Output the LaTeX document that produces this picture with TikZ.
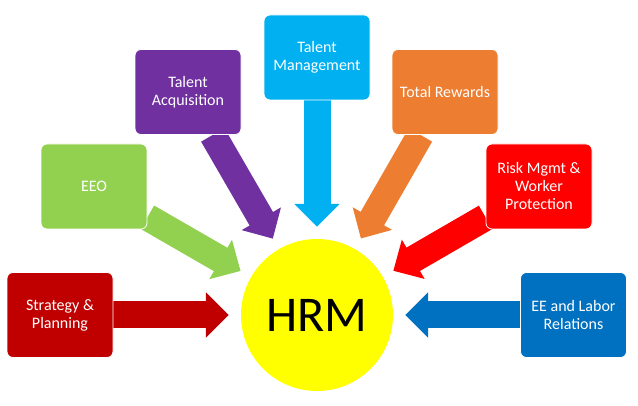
\documentclass[tikz,border=0pt]{standalone}
\usepackage{fontspec}
\setmainfont{Carlito}
\usetikzlibrary{arrows.meta,backgrounds}
\definecolor{stratred}{HTML}{C00000}
\definecolor{eeogreen}{HTML}{92D050}
\definecolor{acqpurple}{HTML}{7030A0}
\definecolor{mgmtblue}{HTML}{00B0F0}
\definecolor{rewardorange}{HTML}{ED7D31}
\definecolor{riskred}{HTML}{FF0000}
\definecolor{laborblue}{HTML}{0070C0}
\definecolor{hrmyellow}{HTML}{FFFF00}

\begin{document}
\begin{tikzpicture}[x=1pt,y=-1pt,
  area/.style={draw=white,line width=0.8pt,rounded corners=6pt,align=center,
               text=white,font=\fontsize{16}{18}\selectfont,
               minimum width=106pt,minimum height=85pt,inner sep=2pt},
  feed/.style={line width=27pt,-{Triangle[width=44pt,length=23pt]},shorten >=12pt}]
\useasboundingbox (0,0) rectangle (638,406);

\node (hrm)  [circle,fill=hrmyellow,minimum size=152pt,inner sep=0pt,
              font=\fontsize{50}{50}\selectfont] at (317,315) {HRM};

\node (strat) [area,fill=stratred]     at (60,315)    {Strategy \&\\Planning};
\node (eeo)   [area,fill=eeogreen]     at (94,186.5)  {EEO};
\node (acq)   [area,fill=acqpurple]    at (188,92)    {Talent\\Acquisition};
\node (mgmt)  [area,fill=mgmtblue]     at (317,57.5)  {Talent\\Management};
\node (rew)   [area,fill=rewardorange] at (445,92)    {Total Rewards};
\node (risk)  [area,fill=riskred]      at (539,186.5) {Risk Mgmt \&\\Worker\\Protection};
\node (labor) [area,fill=laborblue]    at (573.5,315) {EE and Labor\\Relations};

\begin{scope}[on background layer]
\draw[feed,stratred]     (strat) -- (hrm);
\draw[feed,eeogreen]     (eeo)   -- (hrm);
\draw[feed,acqpurple]    (acq)   -- (hrm);
\draw[feed,mgmtblue]     (mgmt)  -- (hrm);
\draw[feed,rewardorange] (rew)   -- (hrm);
\draw[feed,riskred]      (risk)  -- (hrm);
\draw[feed,laborblue]    (labor) -- (hrm);
\end{scope}
\end{tikzpicture}
\end{document}
